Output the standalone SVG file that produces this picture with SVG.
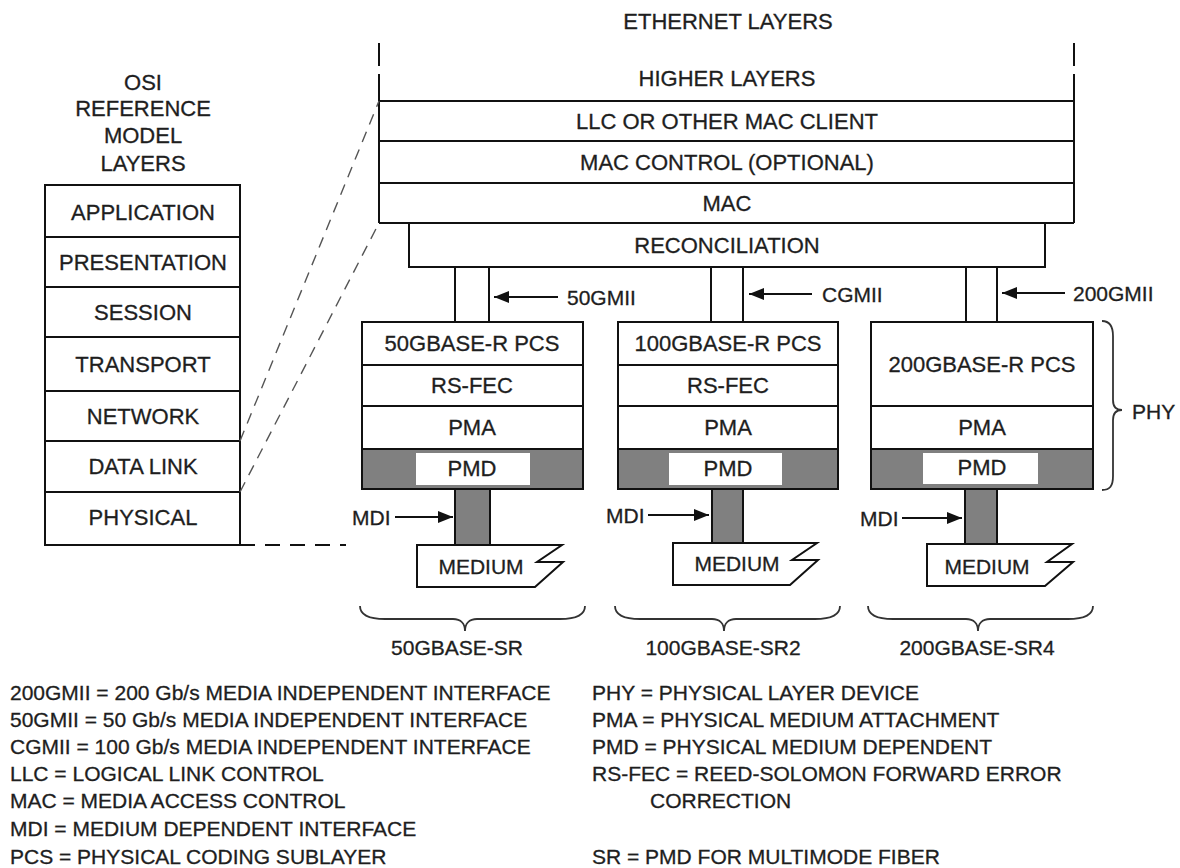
<svg xmlns="http://www.w3.org/2000/svg" width="1180" height="868" viewBox="0 0 1180 868">
<defs>
<marker id="ah" markerUnits="userSpaceOnUse" markerWidth="16" markerHeight="14" refX="15" refY="7" orient="auto"><path d="M0,1 L15,7 L0,13 Z" fill="#111"/></marker>
<style>
text{font-family:"Liberation Sans",Arial,sans-serif;font-size:22px;fill:#1e1e1e;stroke:#1e1e1e;stroke-width:0.3}
.c{text-anchor:middle}
.s{font-size:21px}
.box{fill:#fff;stroke:#111;stroke-width:2}
.ln{stroke:#111;stroke-width:2;fill:none}
.gray{fill:#808080;stroke:#111;stroke-width:2}
.wh{fill:#fff;stroke:none}
.arr{stroke:#111;stroke-width:2;fill:none;marker-end:url(#ah)}
.brace{fill:none;stroke:#333;stroke-width:1.8}
.dash{stroke:#555;stroke-width:1.4;stroke-dasharray:11 8;fill:none}
.med{fill:#fff;stroke:#111;stroke-width:2;stroke-linejoin:miter}
</style>
</defs>
<rect width="1180" height="868" fill="#fff"/>

<g id="osi-stack">
<text class="c" x="143" y="90">OSI</text>
<text class="c" x="143" y="116">REFERENCE</text>
<text class="c" x="143" y="143">MODEL</text>
<text class="c" x="143" y="171">LAYERS</text>
<rect class="box" x="45" y="185" width="195" height="360"/>
<path class="ln" d="M45,237 H240 M45,287 H240 M45,337 H240 M45,391 H240 M45,441 H240 M45,492 H240"/>
<text class="c" x="143" y="220">APPLICATION</text>
<text class="c" x="143" y="270">PRESENTATION</text>
<text class="c" x="143" y="320">SESSION</text>
<text class="c" x="143" y="372">TRANSPORT</text>
<text class="c" x="143" y="424">NETWORK</text>
<text class="c" x="143" y="474">DATA LINK</text>
<text class="c" x="143" y="525">PHYSICAL</text>
</g>

<g id="ethernet-stack">
<text class="c" x="728" y="29">ETHERNET LAYERS</text>
<path class="ln" d="M379,43 V66 M1074,43 V66 M379,74 V223 M1074,74 V223 M379,101 H1074 M379,141 H1074 M379,183 H1074 M379,223 H1074"/>
<text class="c" x="727" y="86">HIGHER LAYERS</text>
<text class="c" x="727" y="129">LLC OR OTHER MAC CLIENT</text>
<text class="c" x="727" y="170">MAC CONTROL (OPTIONAL)</text>
<text class="c" x="727" y="211">MAC</text>
</g>

<g id="reconciliation">
<rect class="box" x="409" y="223" width="636" height="44"/>
<text class="c" x="727" y="253">RECONCILIATION</text>
</g>

<g id="phy-50g">
<rect class="box" x="362" y="322" width="221" height="167"/>
<path class="ln" d="M362,365 H583 M362,406 H583"/>
<rect class="gray" x="362" y="449" width="221" height="40"/>
<rect class="wh" x="416" y="453" width="114" height="32"/>
<text class="c" x="472" y="351">50GBASE-R PCS</text>
<text class="c" x="472" y="393">RS-FEC</text>
<text class="c" x="472" y="435">PMA</text>
<text class="c" x="472" y="476">PMD</text>
</g>

<g id="phy-100g">
<rect class="box" x="618" y="322" width="220" height="167"/>
<path class="ln" d="M618,365 H838 M618,406 H838"/>
<rect class="gray" x="618" y="449" width="220" height="40"/>
<rect class="wh" x="669" y="453" width="113" height="32"/>
<text class="c" x="728" y="351">100GBASE-R PCS</text>
<text class="c" x="728" y="393">RS-FEC</text>
<text class="c" x="728" y="435">PMA</text>
<text class="c" x="728" y="476">PMD</text>
</g>

<g id="phy-200g">
<rect class="box" x="871" y="322" width="222" height="167"/>
<path class="ln" d="M871,406 H1093"/>
<rect class="gray" x="871" y="449" width="222" height="40"/>
<rect class="wh" x="923" y="453" width="115" height="31"/>
<text class="c" x="982" y="372">200GBASE-R PCS</text>
<text class="c" x="982" y="435">PMA</text>
<text class="c" x="982" y="475">PMD</text>
</g>

<g id="mdi-50g">
<rect class="gray" x="455" y="489" width="35" height="56"/>
</g>
<g id="medium-50g">
<path class="med" d="M417,545 H562 L537,562 H563 L535,587 H417 Z"/>
<text class="c s" x="481" y="574">MEDIUM</text>
</g>

<g id="mdi-100g">
<rect class="gray" x="712" y="489" width="31" height="54"/>
</g>
<g id="medium-100g">
<path class="med" d="M673,543 H817 L792,560 H818 L790,585 H673 Z"/>
<text class="c s" x="737" y="571">MEDIUM</text>
</g>

<g id="mdi-200g">
<rect class="gray" x="965" y="489" width="32" height="55"/>
</g>
<g id="medium-200g">
<path class="med" d="M927,544 H1072 L1047,562 H1073 L1045,586 H927 Z"/>
<text class="c s" x="987" y="574">MEDIUM</text>
</g>

<g id="connectors">
<path class="ln" d="M455,267 V322 M489,267 V322 M711,267 V322 M743,267 V322 M966,267 V322 M997,267 V322"/>
<line class="arr" x1="558" y1="297" x2="494" y2="297"/>
<line class="arr" x1="812" y1="294" x2="749" y2="294"/>
<line class="arr" x1="1065" y1="293" x2="1002" y2="293"/>
<line class="arr" x1="395" y1="517" x2="453" y2="517"/>
<line class="arr" x1="648" y1="515" x2="709" y2="515"/>
<line class="arr" x1="902" y1="518" x2="962" y2="518"/>
<line class="dash" x1="240" y1="441" x2="379" y2="101"/>
<line class="dash" x1="240" y1="492" x2="379" y2="223"/>
<line x1="240" y1="545" x2="346" y2="545" stroke="#111" stroke-width="2" stroke-dasharray="15 10"/>
</g>

<g id="interface-labels">
<text class="s" x="567" y="305">50GMII</text>
<text class="s" x="822" y="302">CGMII</text>
<text class="s" x="1073" y="301">200GMII</text>
<text class="s" x="352" y="525">MDI</text>
<text class="s" x="606" y="523">MDI</text>
<text class="s" x="860" y="526">MDI</text>
</g>

<g id="phy-brace">
<path class="brace" d="M1102,321 C1110,321 1113,326 1113,336 V400 C1113,406 1116,410 1122,410 C1116,410 1113,414 1113,420 V476 C1113,486 1110,490 1102,490"/>
<text class="s" x="1132" y="419">PHY</text>
</g>

<g id="brace-50gbase-sr">
<path class="brace" d="M360,606 C360,615 368,619 385,619 H453 C461,619 465,624 465,631 C465,624 469,619 477,619 H560 C577,619 585,615 585,606"/>
<text class="c s" x="457" y="655">50GBASE-SR</text>
</g>
<g id="brace-100gbase-sr2">
<path class="brace" d="M615,606 C615,615 623,619 640,619 H712 C720,619 724,624 724,631 C724,624 728,619 736,619 H815 C832,619 840,615 840,606"/>
<text class="c s" x="723" y="655">100GBASE-SR2</text>
</g>
<g id="brace-200gbase-sr4">
<path class="brace" d="M868,606 C868,615 876,619 893,619 H966 C974,619 978,624 978,631 C978,624 982,619 990,619 H1068 C1085,619 1093,615 1093,606"/>
<text class="c s" x="977" y="655">200GBASE-SR4</text>
</g>

<g id="legend">
<text class="s" x="10" y="700">200GMII = 200 Gb/s MEDIA INDEPENDENT INTERFACE</text>
<text class="s" x="10" y="727">50GMII = 50 Gb/s MEDIA INDEPENDENT INTERFACE</text>
<text class="s" x="10" y="754">CGMII = 100 Gb/s MEDIA INDEPENDENT INTERFACE</text>
<text class="s" x="10" y="781">LLC = LOGICAL LINK CONTROL</text>
<text class="s" x="10" y="808">MAC = MEDIA ACCESS CONTROL</text>
<text class="s" x="10" y="836">MDI = MEDIUM DEPENDENT INTERFACE</text>
<text class="s" x="10" y="864">PCS = PHYSICAL CODING SUBLAYER</text>
<text class="s" x="592" y="700">PHY = PHYSICAL LAYER DEVICE</text>
<text class="s" x="592" y="727">PMA = PHYSICAL MEDIUM ATTACHMENT</text>
<text class="s" x="592" y="754">PMD = PHYSICAL MEDIUM DEPENDENT</text>
<text class="s" x="592" y="781">RS-FEC = REED-SOLOMON FORWARD ERROR</text>
<text class="s" x="650" y="808">CORRECTION</text>
<text class="s" x="592" y="864">SR = PMD FOR MULTIMODE FIBER</text>
</g>
</svg>
